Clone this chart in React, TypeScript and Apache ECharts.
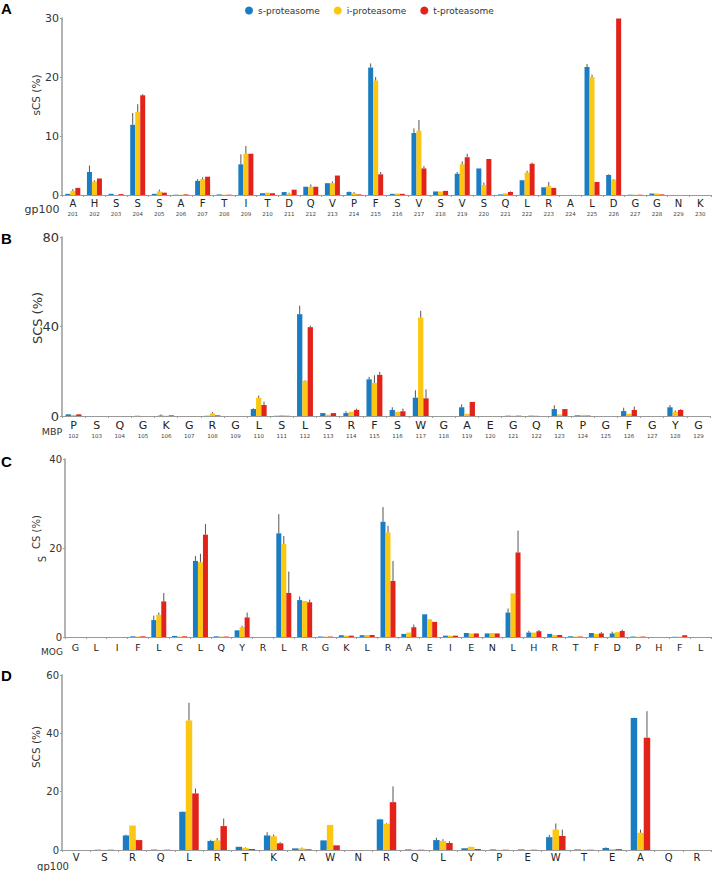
import React, { useEffect, useRef } from "react";
import * as echarts from "echarts";

// ---------- Panel A (gp100 201-230) ----------
const aLetters = ["A","H","S","S","S","A","F","T","I","T","D","Q","V","P","F","S","V","S","V","S","Q","L","R","A","L","D","G","G","N","K"];
const aNumbers = ["201","202","203","204","205","206","207","208","209","210","211","212","213","214","215","216","217","218","219","220","221","222","223","224","225","226","227","228","229","230"];
const aS = [0.2,3.9,0.2,11.9,0.2,0.05,2.4,0.1,5.2,0.3,0.5,1.4,2.0,0.5,21.6,0.2,10.5,0.6,3.6,4.5,0.1,2.5,1.3,0,21.7,3.4,0.05,0.25,0,0];
const aI = [0.7,2.3,0,14.1,0.6,0.05,2.7,0.05,7.0,0.4,0.2,1.4,2.0,0.3,19.4,0.25,10.9,0.6,5.2,1.7,0.3,3.8,1.5,0,20.0,2.6,0.05,0.25,0,0];
const aT = [1.2,2.8,0.15,16.9,0.4,0.1,3.1,0.05,7.0,0.3,0.9,1.4,3.3,0.1,3.5,0.2,4.5,0.7,6.4,6.1,0.5,5.3,1.2,0,2.2,29.9,0.05,0.1,0,0];
const aSErr = [0,1.1,0,2.0,0,0,0.3,0,1.7,0,0,0,0,0.1,0.7,0,0.8,0,0.3,0,0,0,0,0,0.5,0.1,0,0,0,0];
const aIErr = [0.3,0.2,0,1.3,0.3,0,0.3,0,1.3,0,0.2,0.4,0.3,0.2,0.6,0,1.8,0,0.5,0.4,0,0.3,0.7,0,0.4,0.1,0,0,0,0];
const aTErr = [0,0,0,0.2,0,0,0,0,0,0,0,0,0,0,0.4,0,0.4,0,0.6,0,0.1,0.2,0,0,0,0,0,0,0,0];

// ---------- Panel B (MBP 102-129) ----------
const bLetters = ["P","S","Q","G","K","G","R","G","L","S","L","S","R","F","S","W","G","A","E","G","Q","R","P","G","F","G","Y","G"];
const bNumbers = ["102","103","104","105","106","107","108","109","110","111","112","113","114","115","116","117","118","119","120","121","122","123","124","125","126","127","128","129"];
const bS = [0.75,0,0,0.1,0.2,0,0.1,0,3.1,0.1,45.5,1.3,1.3,16.4,2.7,8.2,0,3.9,0,0.15,0.15,3.1,0.3,0,2.2,0,3.9,0];
const bI = [0.5,0,0,0,0.1,0,1.2,0,8.1,0.45,15.7,0.6,1.9,14.8,1.9,44.0,0,1.0,0,0.15,0.2,0.75,0.5,0,1.0,0,1.8,0];
const bT = [0.75,0,0,0,0.3,0,0.3,0,4.9,0.1,39.7,1.3,2.7,18.4,2.1,7.9,0,6.3,0,0.15,0,3.1,0.2,0,2.7,0,2.7,0];
const bSErr = [0,0,0,0,0.5,0,0,0,0.3,0,3.8,0,0.8,1.1,1.2,3.3,0,1.3,0,0,0,1.7,0,0,1.5,0,1.0,0];
const bIErr = [0,0,0,0,0,0,0.6,0,1.0,0,0.3,0,0,3.4,0,3.0,0,0,0,0,0,0,0,0,0,0,0.7,0];
const bTErr = [0,0,0,0,0,0,0,0,1.5,0,0.7,0,0.6,1.3,1.2,4.0,0,0,0,0,0,0,0,0,1.5,0,0.3,0];

// ---------- Panel C (MOG) ----------
const cLetters = ["G","L","I","F","L","C","L","Q","Y","R","L","R","G","K","L","R","A","E","I","E","N","L","H","R","T","F","D","P","H","F","L"];
const cS = [0,0,0,0.15,3.8,0.25,17.1,0.15,1.5,0,23.3,8.3,0.1,0.4,0.4,25.9,0.7,5.1,0.3,0.9,0.8,5.5,1.0,0.7,0.15,0.9,0.8,0.1,0,0.05,0];
const cI = [0,0,0,0.1,5.0,0.1,16.8,0.1,2.2,0,20.9,8.1,0.1,0.3,0.45,23.5,1.0,4.0,0.3,0.8,0.9,9.8,1.0,0.45,0.1,0.7,1.1,0.05,0,0.05,0];
const cT = [0,0,0,0.15,8.0,0.15,23.0,0.1,4.4,0,9.9,7.8,0.1,0.3,0.45,12.6,2.2,3.4,0.3,0.8,0.8,19.0,1.3,0.45,0.1,0.8,1.35,0.1,0,0.4,0];
const cSErr = [0,0,0,0,1.0,0,1.1,0,0,0,4.3,0.8,0,0,0,3.3,0,0,0,0,0,0.9,0.4,0,0,0,0.4,0,0,0,0];
const cIErr = [0,0,0,0,0.5,0,1.9,0,0.3,0,1.8,0,0,0,0,1.5,0,0,0,0,0,0,0,0,0,0,0,0,0,0,0];
const cTErr = [0,0,0,0,1.9,0,2.4,0,1.1,0,4.8,0.6,0,0,0,4.5,0.6,0,0,0,0,4.9,0.3,0,0,0.3,0.3,0,0,0,0];

// ---------- Panel D (gp100) ----------
const dLetters = ["V","S","R","Q","L","R","T","K","A","W","N","R","Q","L","Y","P","E","W","T","E","A","Q","R"];
const dS = [0,0.1,5.0,0.15,13.1,3.1,1.1,5.0,0.55,3.3,0,10.5,0.2,3.4,0.6,0.2,0.2,4.4,0.2,0.7,45.3,0,0];
const dI = [0,0.05,8.4,0.05,44.4,3.3,0.7,4.7,0.55,8.6,0,9.0,0.05,3.1,1.1,0.05,0.05,7.0,0.1,0.3,5.9,0,0];
const dT = [0,0.1,3.4,0.1,19.4,8.2,0.35,2.3,0.25,1.6,0,16.4,0.1,2.4,0.35,0.1,0.1,4.8,0.1,0.3,38.5,0,0];
const dSErr = [0,0,0.3,0,0.1,0.4,0,1.1,0,0,0,0.2,0,0.8,0,0,0,0.8,0,0.2,0.1,0,0];
const dIErr = [0,0,0,0,6.1,0.8,0.2,0.6,0.3,0,0,0.2,0,0.6,0,0,0,2.1,0,0,1.1,0,0];
const dTErr = [0,0,0,0,1.7,2.6,0,0.4,0,0,0,5.4,0,0.6,0,0,0,2.2,0,0,9.1,0,0];

const seriesNames = ["s-proteasome", "i-proteasome", "t-proteasome"];
const colors = ["#1a7cc3", "#fcc712", "#e2231a"];
const FONT = 'Verdana, "DejaVu Sans", sans-serif';

export default function App() {
  const ref = useRef<HTMLDivElement>(null);

  useEffect(() => {
    if (!ref.current) return;
    const chart = echarts.init(ref.current, null, { renderer: "svg" });

    const panels = [
      { letters: aLetters, numbers: aNumbers, vals: [aS, aI, aT], errs: [aSErr, aIErr, aTErr],
        grid: { left: 62, right: 2, top: 18, height: 177 }, max: 30, interval: 10, bw: 5, yFont: 11,
        lblFont: 10, lblMargin: 3 },
      { letters: bLetters, numbers: bNumbers, vals: [bS, bI, bT], errs: [bSErr, bIErr, bTErr],
        grid: { left: 62, right: 3, top: 237, height: 179 }, max: 80, interval: 40, bw: 5.3, yFont: 13,
        lblFont: 11, lblMargin: 3 },
      { letters: cLetters, numbers: null, vals: [cS, cI, cT], errs: [cSErr, cIErr, cTErr],
        grid: { left: 65, right: 2, top: 459, height: 178 }, max: 40, interval: 20, bw: 5, yFont: 10,
        lblFont: 9.5, lblMargin: 5 },
      { letters: dLetters, numbers: null, vals: [dS, dI, dT], errs: [dSErr, dIErr, dTErr],
        grid: { left: 62, right: 2, top: 675, height: 175 }, max: 60, interval: 20, bw: 6.5, yFont: 10,
        lblFont: 10, lblMargin: 2 },
    ];

    const grid: any[] = [];
    const xAxis: any[] = [];
    const yAxis: any[] = [];
    const series: any[] = [];

    panels.forEach((p, pi) => {
      grid.push(p.grid);
      const nums = p.numbers;
      xAxis.push({
        type: "category",
        gridIndex: pi,
        data: p.letters,
        axisLine: { lineStyle: { color: "#9a9a9a", width: 1 } },
        axisTick: { show: true, length: 2, lineStyle: { color: "#9a9a9a" } },
        axisLabel: {
          interval: 0,
          margin: p.lblMargin,
          color: "#222",
          fontFamily: FONT,
          fontSize: p.lblFont,
          formatter: nums
            ? (v: string, i: number) => `{l|${v}}\n{n|${nums[i]}}`
            : (v: string) => v,
          rich: nums
            ? {
                l: { fontSize: p.lblFont, lineHeight: p.lblFont + 1, color: "#222", fontFamily: FONT },
                n: { fontSize: 5.5, lineHeight: 9, color: "#444", fontFamily: FONT },
              }
            : undefined,
        },
      });
      yAxis.push({
        type: "value",
        gridIndex: pi,
        min: 0,
        max: p.max,
        interval: p.interval,
        splitLine: { show: false },
        axisLine: { show: true, lineStyle: { color: "#9a9a9a", width: 1.5 } },
        axisTick: { show: true, length: 2, lineStyle: { color: "#9a9a9a" } },
        axisLabel: { color: "#333", fontSize: p.yFont, fontFamily: FONT, margin: 3 },
      });
      p.vals.forEach((arr, si) => {
        series.push({
          type: "bar",
          name: seriesNames[si],
          xAxisIndex: pi,
          yAxisIndex: pi,
          data: arr,
          barWidth: p.bw,
          barGap: "0%",
          itemStyle: { color: colors[si] },
        });
      });
      const errData: number[][] = [];
      p.errs.forEach((arr, si) => {
        arr.forEach((e, ci) => {
          if (e > 0) errData.push([ci, p.vals[si][ci], e, si]);
        });
      });
      const bw = p.bw;
      series.push({
        type: "custom",
        xAxisIndex: pi,
        yAxisIndex: pi,
        encode: { x: 0, y: 1 },
        data: errData,
        z: 5,
        renderItem: (params: any, api: any) => {
          const c = api.value(0);
          const v = api.value(1);
          const e = api.value(2);
          const s = api.value(3);
          const p0 = api.coord([c, v]);
          const p1 = api.coord([c, v + e]);
          const x = p0[0] + (s - 1) * bw;
          return {
            type: "line",
            shape: { x1: x, y1: p0[1], x2: x, y2: p1[1] },
            style: { stroke: "#555", lineWidth: 1 },
          };
        },
      });
    });

    const txt = (text: string, x: number, y: number, size: number, extra: any = {}) => ({
      type: "text",
      x,
      y,
      style: {
        text,
        fontSize: size,
        fontFamily: FONT,
        fill: "#333",
        align: "center",
        verticalAlign: "middle",
        ...(extra.style || {}),
      },
      rotation: extra.rotation || 0,
    });
    const rot = Math.PI / 2;
    const letterFont = "Arial, Liberation Sans, sans-serif";

    const graphic: any[] = [
      { type: "text", x: 1, y: 1, style: { text: "A", fontSize: 15, fontWeight: "bold", fontFamily: letterFont, fill: "#000" } },
      { type: "text", x: 1, y: 231, style: { text: "B", fontSize: 15, fontWeight: "bold", fontFamily: letterFont, fill: "#000" } },
      { type: "text", x: 1, y: 454, style: { text: "C", fontSize: 15, fontWeight: "bold", fontFamily: letterFont, fill: "#000" } },
      { type: "text", x: 1, y: 668, style: { text: "D", fontSize: 15, fontWeight: "bold", fontFamily: letterFont, fill: "#000" } },
      txt("sCS (%)", 36, 95, 10.5, { rotation: rot }),
      txt("SCS (%)", 37, 318, 13, { rotation: rot }),
      txt("CS (%)", 36.5, 532, 10, { rotation: rot }),
      txt("S", 42.5, 559, 10, { rotation: rot }),
      txt("SCS (%)", 36, 747, 10.5, { rotation: rot }),
      txt("gp100", 42, 209, 11),
      txt("MBP", 52, 431, 9.5),
      txt("MOG", 52, 652, 9),
      txt("gp100", 53, 866, 10),
    ];

    chart.setOption({
      animation: false,
      textStyle: { fontFamily: FONT },
      legend: {
        data: seriesNames,
        top: 1,
        left: 240,
        icon: "circle",
        itemWidth: 8,
        itemHeight: 8,
        itemGap: 14,
        textStyle: { fontSize: 9, color: "#333", fontFamily: FONT },
      },
      grid,
      xAxis,
      yAxis,
      series,
      graphic,
    });

    return () => chart.dispose();
  }, []);

  return (
    <div
      ref={ref}
      style={{ position: "absolute", left: 0, top: 0, width: 713, height: 871, background: "#fff" }}
    />
  );
}
